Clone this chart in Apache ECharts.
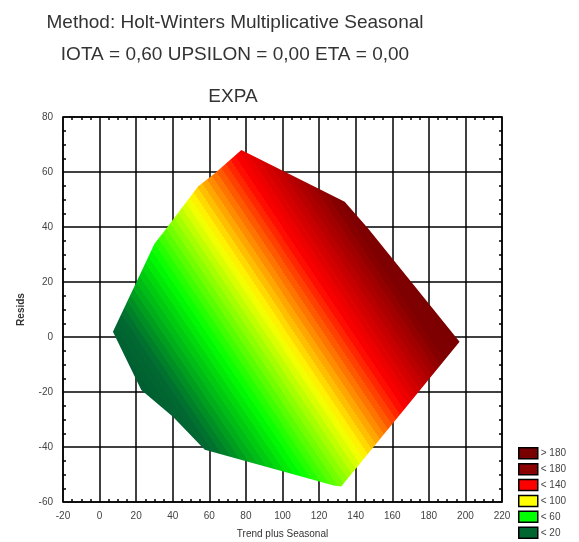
<!DOCTYPE html>
<html>
<head>
<meta charset="utf-8">
<script src="https://cdn.jsdelivr.net/npm/echarts@6/dist/echarts.min.js"></script>
<style>html,body{margin:0;padding:0;background:#fff}#c{width:579px;height:542px}</style>
</head>
<body>
<div id="c"></div>
<script>
// Convex hull of (Trend plus Seasonal, Resids) points
const hullX = [7.3, 22.8, 40.1, 57.5, 128, 132.1, 196.8, 146.8, 134, 77.5, 62.9, 53.8, 36.5, 30.1];
const hullY = [1.9, -19.3, -29, -41, -54, -54.4, -1.7, 39.5, 49.2, 68, 59.5, 54.7, 39.5, 34];
// EXPA = Trend plus Seasonal + Resids; colour levels
const levelValues = [0, 20, 60, 100, 140, 180, 200];
const levelColors = ['#005a30', '#006a30', '#00ff00', '#ffff00', '#ff0000', '#800000', '#780000'];
const legendNames = ['> 180', '< 180', '< 140', '< 100', '< 60', '< 20'];
const legendColors = ['#780000', '#8b0000', '#ff0000', '#ffff00', '#00ff00', '#006630'];
const titleLines = ['Method: Holt-Winters Multiplicative Seasonal', 'IOTA = 0,60 UPSILON = 0,00 ETA = 0,00', 'EXPA'];

function hexToRgb(h){return [parseInt(h.substr(1,2),16),parseInt(h.substr(3,2),16),parseInt(h.substr(5,2),16)];}
function colorAt(v){
  for (let i=0;i<levelValues.length-1;i++){
    if (v<=levelValues[i+1]){
      const t=(v-levelValues[i])/(levelValues[i+1]-levelValues[i]);
      const a=hexToRgb(levelColors[i]), b=hexToRgb(levelColors[i+1]);
      return 'rgb('+a.map((c,k)=>Math.round(c+(b[k]-c)*t)).join(',')+')';
    }
  }
  return levelColors[levelColors.length-1];
}
const vMin = levelValues[0], vMax = levelValues[levelValues.length-1];
const bandWidth = 4;
const stops = [];
for (let v=vMin; v<vMax; v+=bandWidth){
  const c = colorAt(v+bandWidth/2);
  stops.push({offset:(v-vMin)/(vMax-vMin), color:c});
  stops.push({offset:Math.min(1,(v+bandWidth-vMin)/(vMax-vMin)), color:c});
}

const FONT = '"Liberation Sans", Arial, sans-serif';
const chart = echarts.init(document.getElementById('c'));
const axisCommon = {
  axisLine:{show:true,onZero:false,lineStyle:{color:'#000',width:1.5}},
  axisTick:{show:true,inside:true,length:0,lineStyle:{color:'#000'}},
  minorTick:{show:true,splitNumber:4,length:3,lineStyle:{color:'#000',width:1.5}},
};
const series = [{
  type:'custom',
  xAxisIndex:0, yAxisIndex:0,
  data:[[hullX[0],hullY[0]]],
  z:3,
  renderItem:function(params, api){
    const pts = hullX.map((x,i)=>api.coord([x,hullY[i]]));
    const p0 = api.coord([0,0]), px = api.coord([1,0]), py = api.coord([0,1]);
    const sx = px[0]-p0[0], sy = p0[1]-py[1];
    const gx = 1/sx, gy = -1/sy, gl = Math.sqrt(gx*gx+gy*gy);
    const ux = gx/gl, uy = gy/gl;
    const s = [p0[0]+ux*vMin/gl, p0[1]+uy*vMin/gl];
    const e = [p0[0]+ux*vMax/gl, p0[1]+uy*vMax/gl];
    return {type:'polygon', shape:{points:pts},
      style:{fill:{type:'linear',x:s[0],y:s[1],x2:e[0],y2:e[1],global:true,colorStops:stops}, stroke:null}};
  }
}];
legendNames.forEach((n,i)=>series.push({type:'scatter',name:n,data:[],itemStyle:{color:legendColors[i],opacity:1}}));

chart.setOption({
  animation:false,
  grid:{left:63,right:77,top:117,bottom:40,show:false,containLabel:false,outerBoundsMode:'none'},
  graphic: titleLines.map((t,i)=>({type:'text',x:[235,235,233][i],y:[23,55,97][i],
    style:{text:t,fill:'#333',font:'19px ' + FONT,textAlign:'center',textVerticalAlign:'middle'}})),
  legend:{orient:'vertical',left:518,top:447,itemWidth:19,itemHeight:11,itemGap:3.4,padding:0,icon:'rect',
    data:legendNames, selectedMode:false,
    itemStyle:{borderColor:'#000',borderWidth:1.5,opacity:1},
    textStyle:{fontSize:10,color:'#444',fontFamily:FONT,padding:[0,0,0,-2]}},
  xAxis:[
    Object.assign({type:'value',min:-20,max:220,interval:20,position:'bottom',
      name:'Trend plus Seasonal',nameLocation:'middle',nameGap:27,
      nameTextStyle:{fontSize:10,color:'#333',fontFamily:FONT},
      axisLabel:{fontSize:10,color:'#444',margin:9,fontFamily:FONT},
      splitLine:{show:true,lineStyle:{color:'#000',width:1.5}}}, axisCommon),
    Object.assign({type:'value',min:-20,max:220,interval:20,position:'top',
      axisLabel:{show:false},splitLine:{show:false}}, axisCommon)
  ],
  yAxis:[
    Object.assign({type:'value',min:-60,max:80,interval:20,position:'left',
      name:'Resids',nameLocation:'middle',nameGap:37,nameRotate:90,
      nameTextStyle:{fontSize:10,fontWeight:'bold',color:'#333',fontFamily:FONT},
      axisLabel:{fontSize:10,color:'#444',margin:10,fontFamily:FONT},
      splitLine:{show:true,lineStyle:{color:'#000',width:1.5}}}, axisCommon),
    Object.assign({type:'value',min:-60,max:80,interval:20,position:'right',
      axisLabel:{show:false},splitLine:{show:false}}, axisCommon)
  ],
  series:series
});
</script>
</body>
</html>
